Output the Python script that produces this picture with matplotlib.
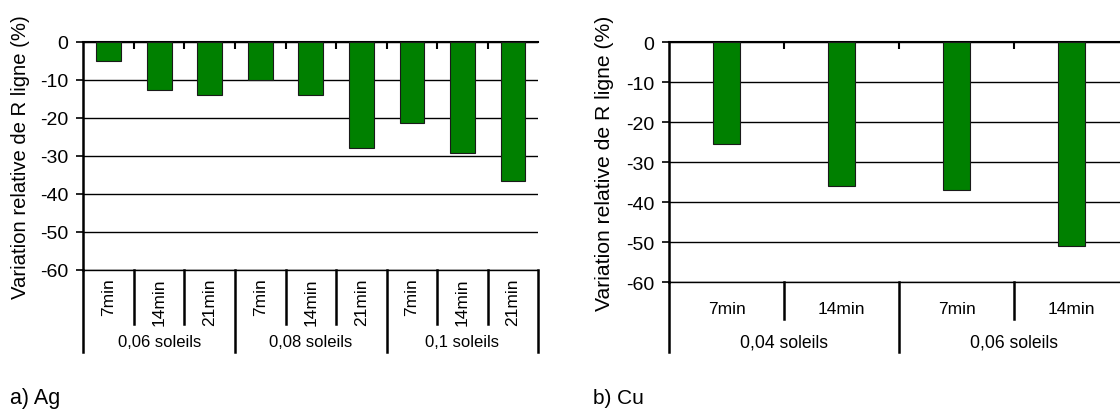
import matplotlib
matplotlib.use("Agg")
import matplotlib.pyplot as plt
from matplotlib.transforms import blended_transform_factory

plt.rcParams['font.family'] = ['Liberation Sans', 'DejaVu Sans']

# ---- data ----
ag_times = ["7min", "14min", "21min", "7min", "14min", "21min", "7min", "14min", "21min"]
ag_groups = ["0,06 soleils", "0,08 soleils", "0,1 soleils"]
ag_values = [-5.2, -12.7, -13.9, -10.2, -14.1, -28.0, -21.4, -29.3, -36.7]

cu_times = ["7min", "14min", "7min", "14min"]
cu_groups = ["0,04 soleils", "0,06 soleils"]
cu_values = [-25.5, -35.8, -36.8, -50.8]

yticks = [0, -10, -20, -30, -40, -50, -60]
ylabel = "Variation relative de R ligne (%)"
bar_color = "#008000"

W, H = 1120, 410
fig = plt.figure(figsize=(W / 100, H / 100), dpi=100)


def px_axes(x0, y0, x1, y1):
    return fig.add_axes([x0 / W, 1 - y1 / H, (x1 - x0) / W, (y1 - y0) / H])


def make_chart(ax, times, groups, values, width, tick_fs, cat_fs, grp_fs,
               rotate, cat_y, grp_y, minor_y, major_y):
    n = len(times)
    xs = list(range(n))
    ax.bar(xs, values, width=width, color=bar_color, edgecolor="#1a1a1a",
           linewidth=0.8, zorder=3)
    ax.set_xlim(-0.5, n - 0.5)
    ax.set_ylim(-60, 0)
    ax.set_yticks(yticks)
    ax.set_yticklabels([str(v) for v in yticks], fontsize=tick_fs)
    ax.yaxis.grid(True, color="black", linewidth=1.0, zorder=1)
    ax.set_axisbelow(True)
    ax.spines["right"].set_visible(False)
    ax.spines["bottom"].set_linewidth(1.0)
    ax.spines["left"].set_linewidth(1.8)
    ax.spines["top"].set_linewidth(1.5)
    ax.tick_params(axis="y", direction="out", length=5, width=1.2, pad=6)
    # x ticks at category boundaries on the 0 line (top), pointing down
    ax.xaxis.set_ticks_position("top")
    ax.set_xticks([i + 0.5 for i in range(n - 1)])
    ax.tick_params(axis="x", direction="in", length=5, width=1.5,
                   labeltop=False, labelbottom=False)
    tr = blended_transform_factory(ax.transData, ax.transAxes)
    per = n // len(groups)
    for i, t in enumerate(times):
        if rotate:
            ax.text(i, cat_y, t, rotation=90, ha="center", va="top",
                    fontsize=cat_fs, transform=tr)
        else:
            ax.text(i, cat_y, t, ha="center", va="center",
                    fontsize=cat_fs, transform=tr)
    for b in range(n + 1):
        yb = major_y if b % per == 0 else minor_y
        ax.plot([b - 0.5, b - 0.5], [0, yb], color="black", linewidth=1.8,
                transform=tr, clip_on=False, zorder=4)
    for g, name in enumerate(groups):
        xc = g * per + (per - 1) / 2
        ax.text(xc, grp_y, name, ha="center", va="center",
                fontsize=grp_fs, transform=tr)


# left chart (Ag)
ax1 = px_axes(83.3, 42.7, 538.3, 270.7)
h1 = 228.0
make_chart(ax1, ag_times, ag_groups, ag_values, 0.49, 14, 12.5, 12,
           True, -8.0 / h1, -(343 - 270.7) / h1, -(325 - 270.7) / h1,
           -(353 - 270.7) / h1)
fig.text(21 / W, 1 - 157 / H, ylabel, rotation=90, ha="center", va="center",
         fontsize=14.6)
fig.text(10 / W, 1 - 399 / H, "a) Ag", ha="left", va="center", fontsize=15.5)

# right chart (Cu)
ax2 = px_axes(669.3, 43.3, 1129.3, 283.3)
h2 = 240.0
make_chart(ax2, cu_times, cu_groups, cu_values, 0.235, 14, 12.5, 12.7,
           False, -(309 - 283.3) / h2, -(343 - 283.3) / h2,
           -(320 - 283.3) / h2, -(353 - 283.3) / h2)
fig.text(605 / W, 1 - 163 / H, ylabel, rotation=90, ha="center", va="center",
         fontsize=15.2)
fig.text(593 / W, 1 - 399 / H, "b) Cu", ha="left", va="center", fontsize=15)

fig.savefig("out.png", dpi=100)
